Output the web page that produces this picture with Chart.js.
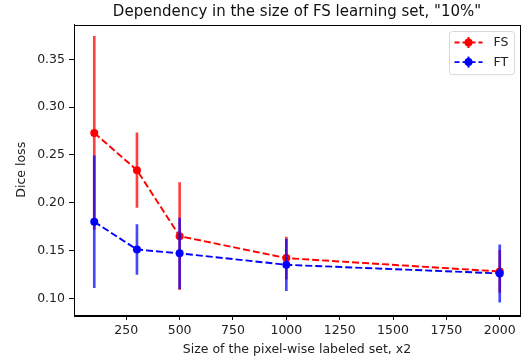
<!DOCTYPE html>
<html>
<head>
<meta charset="utf-8">
<script src="https://cdn.jsdelivr.net/npm/chart.js@4.4.1/dist/chart.umd.min.js"></script>
<style>
  html, body { margin: 0; padding: 0; background: #fff; }
  canvas { display: block; }
</style>
</head>
<body>
<canvas id="dice" width="526" height="360"></canvas>
<script>
// values
const sizes = [100, 300, 500, 1000, 2000];
const fsMean = [0.273, 0.234, 0.165, 0.142, 0.128];
const fsErr = [0.101, 0.039, 0.056, 0.022, 0.022];
const ftMean = [0.180, 0.151, 0.147, 0.135, 0.126];
const ftErr = [0.069, 0.026, 0.037, 0.027, 0.030];
const xTicks = [250, 500, 750, 1000, 1250, 1500, 1750, 2000];
const yTicks = [0.10, 0.15, 0.20, 0.25, 0.30, 0.35];

const font = 'DejaVu Sans';
const textColor = '#222';

const points = (mean) => sizes.map((x, i) => ({ x: x, y: mean[i] }));
const ranges = (mean, err) => sizes.map((x, i) => ({ x: x, y: [mean[i] - err[i], mean[i] + err[i]] }));

function errDataset(label, mean, err, color, order) {
  return {
    type: 'bar',
    label: label + ' err',
    data: ranges(mean, err),
    backgroundColor: color,
    borderWidth: 0,
    barThickness: 2,
    grouped: false,
    order: order
  }
}

function lineDataset(label, mean, color, order) {
  return {
    type: 'line',
    label: label,
    data: points(mean),
    borderColor: color,
    backgroundColor: color,
    borderWidth: 1.9,
    borderDash: [7, 3],
    pointRadius: 4,
    pointBorderWidth: 0,
    pointBackgroundColor: color,
    tension: 0,
    fill: false,
    order: order
  }
}

// axes box (matplotlib draws all four spines)
const frame = {
  id: 'frame',
  afterDatasetsDraw(chart) {
    const { ctx, chartArea: a } = chart;
    ctx.save();
    ctx.strokeStyle = '#000';
    ctx.lineWidth = 1;
    ctx.strokeRect(Math.round(a.left) + 0.5, Math.round(a.top) + 0.5,
      Math.round(a.right - a.left), Math.round(a.bottom - a.top));
    ctx.restore();
  }
}

// legend inside the axes, upper right
const innerLegend = {
  id: 'innerLegend',
  afterDraw(chart) {
    const { ctx, chartArea: a } = chart;
    const items = chart.data.datasets.filter(d => d.type === 'line');
    const boxW = 65, rowH = 19.6;
    const boxH = items.length * rowH + 4;
    const x0 = a.right - 5.5 - boxW, y0 = a.top + 7;
    ctx.save();
    ctx.beginPath();
    ctx.roundRect(x0, y0, boxW, boxH, 3);
    ctx.fillStyle = 'rgba(255,255,255,0.8)';
    ctx.fill();
    ctx.strokeStyle = '#d8d8d8';
    ctx.lineWidth = 1;
    ctx.stroke();

    items.forEach((d, i) => {
      const y = y0 + 11 + i * rowH;
      const lx = x0 + 5, rx = x0 + 33, cx = (lx + rx) / 2;
      ctx.strokeStyle = d.borderColor;
      ctx.lineWidth = d.borderWidth;
      ctx.setLineDash([5, 3]);
      ctx.lineDashOffset = 0;
      ctx.beginPath();
      ctx.moveTo(lx, y);
      ctx.lineTo(rx, y);
      ctx.stroke();
      ctx.setLineDash([]);
      ctx.lineWidth = 2;
      ctx.beginPath();
      ctx.moveTo(cx, y - 5.5);
      ctx.lineTo(cx, y + 5.5);
      ctx.stroke();
      ctx.fillStyle = d.borderColor;
      ctx.beginPath();
      ctx.arc(cx, y, 4, 0, Math.PI * 2);
      ctx.fill();
      ctx.fillStyle = textColor;
      ctx.font = '12.5px "' + font + '"';
      ctx.textBaseline = 'middle';
      ctx.fillText(d.label, x0 + 44, y + 0.5);
    });
    ctx.restore();
  }
}

const ctx = document.getElementById('dice');
new Chart(ctx, {
  type: 'line',
  data: {
    datasets: [
      errDataset('FS', fsMean, fsErr, 'rgba(255,0,0,0.75)', 4),
      lineDataset('FS', fsMean, '#ff0000', 3),
      errDataset('FT', ftMean, ftErr, 'rgba(0,0,255,0.72)', 2),
      lineDataset('FT', ftMean, '#0000ff', 1)
    ]
  },
  options: {
    responsive: false,
    animation: false,
    layout: { padding: { left: 0, right: 6, top: 0, bottom: 0 } },
    plugins: {
      legend: { display: false },
      tooltip: { enabled: false },
      title: {
        display: true,
        fullSize: false,
        text: 'Dependency in the size of FS learning set, "10%"',
        color: '#111',
        font: { family: font, size: 15, weight: 'normal' },
        padding: { top: 3, bottom: 3.5 }
      }
    },
    scales: {
      x: {
        type: 'linear',
        min: 5,
        max: 2095,
        offset: false,
        afterBuildTicks: (s) => { s.ticks = xTicks.map(v => ({ value: v })) },
        afterFit: (s) => { s.height = 45 },
        grid: { display: true, offset: false, drawOnChartArea: false, drawTicks: true, tickLength: 5, color: '#000' },
        border: { display: true, color: '#000' },
        ticks: { color: textColor, font: { family: font, size: 12.5 }, padding: 3, maxRotation: 0, autoSkip: false, callback: (v) => String(v) },
        title: {
          display: true,
          text: 'Size of the pixel-wise labeled set, x2',
          color: textColor,
          font: { family: font, size: 12.5 },
          padding: { top: 0, bottom: 3.2 }
        }
      },
      y: {
        type: 'linear',
        min: 0.0825,
        max: 0.3864,
        afterBuildTicks: (s) => { s.ticks = yTicks.map(v => ({ value: v })) },
        afterFit: (s) => { s.width = 74 },
        grid: { display: true, offset: false, drawOnChartArea: false, drawTicks: true, tickLength: 5, color: '#000' },
        border: { display: true, color: '#000' },
        ticks: { color: textColor, font: { family: font, size: 12.5 }, padding: 4, callback: (v) => v.toFixed(2) },
        title: {
          display: true,
          text: 'Dice loss',
          color: textColor,
          font: { family: font, size: 12.5 },
          padding: { top: 14.5, bottom: 0 }
        }
      }
    }
  },
  plugins: [frame, innerLegend]
});
</script>
</body>
</html>
